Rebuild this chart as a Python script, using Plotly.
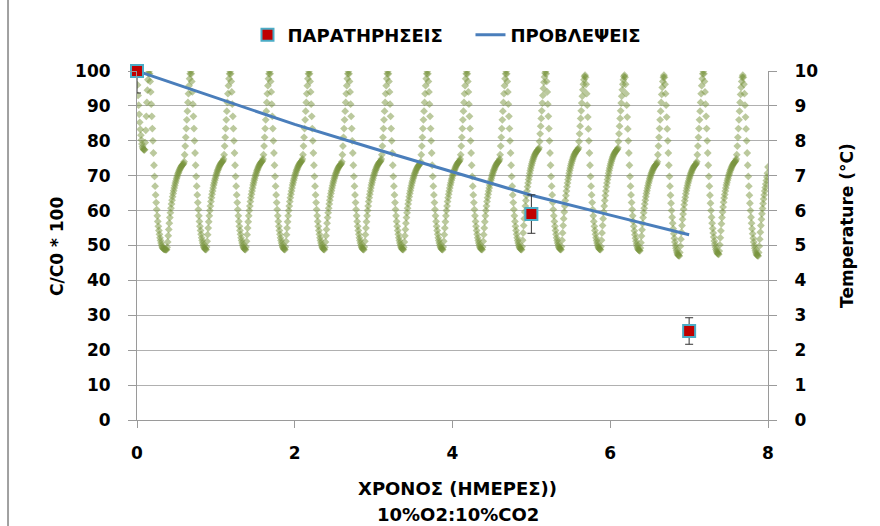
import plotly.graph_objects as go

# ---- Observations (C/C0 * 100) and their error margins ----
obs_days = [0, 5, 7]
obs_values = [100, 59.0, 25.5]
obs_err_plus = [0, 5.5, 3.8]
obs_err_minus = [6.3, 5.5, 3.8]

# ---- Model predictions (C/C0 * 100), one value per day ----
pred_days = [0, 1, 2, 3, 4, 5, 6, 7]
pred_values = [100, 92.4, 84.7, 77.8, 71.2, 64.4, 58.7, 53.1]

# ---- Storage temperature log (°C), one reading every 10 minutes ----
log_step_minutes = 10

# readings from 0:00 to 8:50 on day 0
temp_start = [
    9.90, 9.60, 9.30, 9.02, 8.76, 8.53, 8.33, 8.16, 8.02, 7.91, 7.83, 7.78, 7.75, 7.74, 7.74,
    7.95, 8.30, 8.70, 9.10, 9.45, 9.75, 9.93, 10.00, 9.92,
    9.70, 9.40, 9.05, 8.70, 8.35, 8.00, 7.65, 7.30, 6.98, 6.70, 6.45, 6.23, 6.03, 5.85, 5.69,
    5.55, 5.43, 5.32, 5.22, 5.14, 5.07, 5.01, 4.96, 4.93, 4.91, 4.90, 4.89, 4.89, 4.88, 4.88,
]

# one row per 12-hour cooling cycle, each starting at the temperature minimum
temp_cycles = [
    [4.88, 4.95, 5.10, 5.28, 5.46, 5.64, 5.80, 5.94, 6.07, 6.19, 6.30, 6.40, 6.49, 6.57, 6.65, 6.72, 6.79, 6.85, 6.91, 6.96, 7.01, 7.06, 7.10, 7.14, 7.18, 7.21, 7.24, 7.27, 7.29, 7.31, 7.33, 7.35, 7.40,
     7.60, 7.85, 8.10, 8.35, 8.60, 8.85, 9.10, 9.35, 9.58, 9.78, 9.92, 10.00, 9.92,
     9.70, 9.40, 9.05, 8.70, 8.35, 8.00, 7.65, 7.30, 6.98, 6.70, 6.45, 6.23, 6.03, 5.85, 5.69, 5.55, 5.43, 5.32, 5.22, 5.14, 5.07, 5.01, 4.96, 4.93, 4.90, 4.89],
    [4.88, 4.96, 5.12, 5.31, 5.50, 5.68, 5.85, 6.00, 6.13, 6.26, 6.37, 6.47, 6.56, 6.65, 6.73, 6.80, 6.87, 6.93, 6.99, 7.04, 7.09, 7.14, 7.18, 7.22, 7.26, 7.29, 7.32, 7.35, 7.37, 7.39, 7.41, 7.43, 7.48,
     7.60, 7.85, 8.10, 8.35, 8.60, 8.85, 9.10, 9.35, 9.58, 9.78, 9.92, 10.00, 9.92,
     9.70, 9.40, 9.05, 8.70, 8.35, 8.00, 7.65, 7.30, 6.98, 6.70, 6.45, 6.23, 6.03, 5.85, 5.69, 5.55, 5.43, 5.32, 5.22, 5.14, 5.07, 5.01, 4.96, 4.93, 4.90, 4.89],
    [4.88, 4.96, 5.12, 5.31, 5.50, 5.68, 5.85, 6.00, 6.13, 6.26, 6.37, 6.47, 6.56, 6.65, 6.73, 6.80, 6.87, 6.93, 6.99, 7.04, 7.09, 7.14, 7.18, 7.22, 7.26, 7.29, 7.32, 7.35, 7.37, 7.39, 7.41, 7.43, 7.48,
     7.60, 7.85, 8.10, 8.35, 8.60, 8.85, 9.10, 9.35, 9.58, 9.78, 9.92, 10.00, 9.92,
     9.70, 9.40, 9.05, 8.70, 8.35, 8.00, 7.65, 7.30, 6.98, 6.70, 6.45, 6.23, 6.03, 5.85, 5.69, 5.55, 5.43, 5.32, 5.22, 5.14, 5.07, 5.01, 4.96, 4.93, 4.90, 4.89],
    [4.88, 4.96, 5.12, 5.31, 5.50, 5.68, 5.85, 6.00, 6.13, 6.26, 6.37, 6.47, 6.56, 6.65, 6.73, 6.80, 6.87, 6.93, 6.99, 7.04, 7.09, 7.14, 7.18, 7.22, 7.26, 7.29, 7.32, 7.35, 7.37, 7.39, 7.41, 7.43, 7.48,
     7.60, 7.85, 8.10, 8.35, 8.60, 8.85, 9.10, 9.35, 9.58, 9.78, 9.92, 10.00, 9.92,
     9.70, 9.40, 9.05, 8.70, 8.35, 8.00, 7.65, 7.30, 6.98, 6.70, 6.45, 6.23, 6.03, 5.85, 5.69, 5.55, 5.43, 5.32, 5.22, 5.14, 5.07, 5.01, 4.96, 4.93, 4.90, 4.89],
    [4.88, 4.95, 5.10, 5.28, 5.46, 5.64, 5.80, 5.94, 6.07, 6.19, 6.30, 6.40, 6.49, 6.57, 6.65, 6.72, 6.79, 6.85, 6.91, 6.96, 7.01, 7.06, 7.10, 7.14, 7.18, 7.21, 7.24, 7.27, 7.29, 7.31, 7.33, 7.35, 7.40,
     7.60, 7.85, 8.10, 8.35, 8.60, 8.85, 9.10, 9.35, 9.58, 9.78, 9.92, 10.00, 9.92,
     9.70, 9.40, 9.05, 8.70, 8.35, 8.00, 7.65, 7.30, 6.98, 6.70, 6.45, 6.23, 6.03, 5.85, 5.69, 5.55, 5.43, 5.32, 5.22, 5.14, 5.07, 5.01, 4.96, 4.93, 4.90, 4.89],
    [4.88, 4.96, 5.12, 5.31, 5.50, 5.68, 5.85, 6.00, 6.13, 6.26, 6.37, 6.47, 6.56, 6.65, 6.73, 6.80, 6.87, 6.93, 6.99, 7.04, 7.09, 7.14, 7.18, 7.22, 7.26, 7.29, 7.32, 7.35, 7.37, 7.39, 7.41, 7.43, 7.48,
     7.60, 7.85, 8.10, 8.35, 8.60, 8.85, 9.10, 9.35, 9.58, 9.78, 9.92, 10.00, 9.92,
     9.70, 9.40, 9.05, 8.70, 8.35, 8.00, 7.65, 7.30, 6.98, 6.70, 6.45, 6.23, 6.03, 5.85, 5.69, 5.55, 5.43, 5.32, 5.22, 5.14, 5.07, 5.01, 4.96, 4.93, 4.90, 4.89],
    [4.88, 4.95, 5.10, 5.28, 5.46, 5.64, 5.80, 5.94, 6.07, 6.19, 6.30, 6.40, 6.49, 6.57, 6.65, 6.72, 6.79, 6.85, 6.91, 6.96, 7.01, 7.06, 7.10, 7.14, 7.18, 7.21, 7.24, 7.27, 7.29, 7.31, 7.33, 7.35, 7.40,
     7.60, 7.85, 8.10, 8.35, 8.60, 8.85, 9.10, 9.35, 9.58, 9.78, 9.92, 10.00, 9.92,
     9.70, 9.40, 9.05, 8.70, 8.35, 8.00, 7.65, 7.30, 6.98, 6.70, 6.45, 6.23, 6.03, 5.85, 5.69, 5.55, 5.43, 5.32, 5.22, 5.14, 5.07, 5.01, 4.96, 4.93, 4.90, 4.89],
    [4.88, 4.96, 5.12, 5.31, 5.50, 5.68, 5.85, 6.00, 6.13, 6.26, 6.37, 6.47, 6.56, 6.65, 6.73, 6.80, 6.87, 6.93, 6.99, 7.04, 7.09, 7.14, 7.18, 7.22, 7.26, 7.29, 7.32, 7.35, 7.37, 7.39, 7.41, 7.43, 7.48,
     7.60, 7.85, 8.10, 8.35, 8.60, 8.85, 9.10, 9.35, 9.58, 9.78, 9.92, 10.00, 9.92,
     9.70, 9.40, 9.05, 8.70, 8.35, 8.00, 7.65, 7.30, 6.98, 6.70, 6.45, 6.23, 6.03, 5.85, 5.69, 5.55, 5.43, 5.32, 5.22, 5.14, 5.07, 5.01, 4.96, 4.93, 4.90, 4.89],
    [4.88, 4.96, 5.12, 5.31, 5.50, 5.68, 5.85, 6.00, 6.13, 6.26, 6.37, 6.47, 6.56, 6.65, 6.73, 6.80, 6.87, 6.93, 6.99, 7.04, 7.09, 7.14, 7.18, 7.22, 7.26, 7.29, 7.32, 7.35, 7.37, 7.39, 7.41, 7.43, 7.48,
     7.60, 7.85, 8.10, 8.35, 8.60, 8.85, 9.10, 9.35, 9.58, 9.78, 9.92, 10.00, 9.92,
     9.70, 9.40, 9.05, 8.70, 8.35, 8.00, 7.65, 7.30, 6.98, 6.70, 6.45, 6.23, 6.03, 5.85, 5.69, 5.55, 5.43, 5.32, 5.22, 5.14, 5.07, 5.01, 4.96, 4.93, 4.90, 4.89],
    [4.88, 4.97, 5.15, 5.36, 5.57, 5.77, 5.96, 6.13, 6.29, 6.43, 6.56, 6.68, 6.79, 6.89, 6.98, 7.07, 7.15, 7.22, 7.29, 7.35, 7.41, 7.46, 7.51, 7.55, 7.59, 7.62, 7.65, 7.68, 7.70, 7.72, 7.74, 7.76, 7.80,
     7.98, 8.20, 8.42, 8.64, 8.86, 9.08, 9.30, 9.50, 9.68, 9.83, 9.94, 10.00, 9.92,
     9.70, 9.40, 9.05, 8.70, 8.35, 8.00, 7.65, 7.30, 6.98, 6.70, 6.45, 6.23, 6.03, 5.85, 5.69, 5.55, 5.43, 5.32, 5.22, 5.14, 5.07, 5.01, 4.96, 4.93, 4.90, 4.89],
    [4.88, 4.97, 5.15, 5.36, 5.57, 5.77, 5.96, 6.13, 6.29, 6.43, 6.56, 6.68, 6.79, 6.89, 6.98, 7.07, 7.15, 7.22, 7.29, 7.35, 7.41, 7.46, 7.51, 7.55, 7.59, 7.62, 7.65, 7.68, 7.70, 7.72, 7.74, 7.76, 7.80,
     7.98, 8.20, 8.42, 8.64, 8.86, 9.08, 9.28, 9.46, 9.62, 9.75, 9.84, 9.88, 9.82,
     9.62, 9.35, 9.02, 8.68, 8.34, 8.00, 7.65, 7.30, 6.98, 6.70, 6.45, 6.23, 6.03, 5.85, 5.69, 5.55, 5.43, 5.32, 5.22, 5.14, 5.07, 5.01, 4.96, 4.93, 4.90, 4.89],
    [4.88, 4.97, 5.15, 5.36, 5.57, 5.77, 5.96, 6.13, 6.29, 6.43, 6.56, 6.68, 6.79, 6.89, 6.98, 7.07, 7.15, 7.22, 7.29, 7.35, 7.41, 7.46, 7.51, 7.55, 7.59, 7.62, 7.65, 7.68, 7.70, 7.72, 7.74, 7.76, 7.80,
     7.98, 8.20, 8.42, 8.64, 8.86, 9.08, 9.28, 9.46, 9.62, 9.75, 9.84, 9.88, 9.82,
     9.62, 9.35, 9.02, 8.68, 8.34, 8.00, 7.65, 7.30, 6.98, 6.70, 6.45, 6.23, 6.03, 5.85, 5.69, 5.55, 5.42, 5.31, 5.21, 5.12, 5.04, 4.98, 4.93, 4.89, 4.87, 4.86],
    [4.85, 4.93, 5.08, 5.27, 5.45, 5.63, 5.80, 5.94, 6.07, 6.19, 6.30, 6.40, 6.49, 6.57, 6.65, 6.72, 6.79, 6.85, 6.91, 6.96, 7.01, 7.06, 7.10, 7.14, 7.18, 7.21, 7.24, 7.27, 7.29, 7.31, 7.33, 7.35, 7.40,
     7.60, 7.85, 8.10, 8.35, 8.60, 8.85, 9.10, 9.33, 9.53, 9.70, 9.82, 9.88, 9.82,
     9.62, 9.35, 9.02, 8.68, 8.34, 8.00, 7.65, 7.30, 6.98, 6.70, 6.44, 6.21, 6.00, 5.81, 5.64, 5.48, 5.34, 5.21, 5.10, 5.00, 4.92, 4.85, 4.79, 4.75, 4.72, 4.71],
    [4.70, 4.80, 4.98, 5.18, 5.38, 5.57, 5.75, 5.90, 6.04, 6.17, 6.28, 6.38, 6.48, 6.57, 6.65, 6.72, 6.79, 6.85, 6.91, 6.96, 7.01, 7.06, 7.10, 7.14, 7.18, 7.21, 7.24, 7.27, 7.29, 7.31, 7.33, 7.35, 7.40,
     7.60, 7.85, 8.10, 8.35, 8.60, 8.85, 9.10, 9.35, 9.58, 9.78, 9.92, 10.00, 9.92,
     9.70, 9.40, 9.05, 8.70, 8.35, 8.00, 7.65, 7.30, 6.98, 6.70, 6.44, 6.21, 6.00, 5.81, 5.64, 5.49, 5.36, 5.24, 5.13, 5.04, 4.96, 4.89, 4.84, 4.80, 4.77, 4.76],
    [4.75, 4.84, 5.02, 5.22, 5.42, 5.62, 5.80, 5.96, 6.10, 6.24, 6.36, 6.46, 6.56, 6.65, 6.73, 6.80, 6.87, 6.93, 6.99, 7.04, 7.09, 7.14, 7.18, 7.22, 7.26, 7.29, 7.32, 7.35, 7.37, 7.39, 7.41, 7.43, 7.48,
     7.60, 7.85, 8.10, 8.35, 8.60, 8.85, 9.10, 9.33, 9.53, 9.70, 9.82, 9.88, 9.82,
     9.62, 9.35, 9.02, 8.68, 8.34, 8.00, 7.65, 7.30, 6.98, 6.70, 6.44, 6.21, 6.00, 5.81, 5.64, 5.48, 5.34, 5.21, 5.10, 5.00, 4.92, 4.85, 4.79, 4.75, 4.72, 4.71],
]

# last readings, up to the end of day 8
temp_end = [4.70, 4.80, 4.98, 5.18, 5.38, 5.57, 5.75, 5.91, 6.06, 6.20, 6.33, 6.45, 6.56, 6.66, 6.76, 6.86, 6.96, 7.07, 7.25]

assert len(temp_start) == 54 and all(len(r) == 72 for r in temp_cycles) and len(temp_end) == 19

temp_values = temp_start + [v for row in temp_cycles for v in row] + temp_end
temp_days = [i * log_step_minutes / 1440 for i in range(len(temp_values))]

FONT = "DejaVu Sans"
GRID = "#B0B0B0"
AXIS = "#9A9A9A"

fig = go.Figure()

# temperature readings on the primary axis (drawn on the right side)
fig.add_trace(go.Scatter(
    x=temp_days, y=temp_values, mode="markers", yaxis="y", showlegend=False,
    marker=dict(symbol="diamond", size=6, color="#77933C", opacity=0.5, line=dict(width=0)),
    hoverinfo="skip",
))

# predictions and observations on the C/C0 axis (left side)
fig.add_trace(go.Scatter(
    x=pred_days, y=pred_values, mode="lines", yaxis="y2", name="ΠΡΟΒΛΕΨΕΙΣ",
    line=dict(color="#4A7EBB", width=3),
))
fig.add_trace(go.Scatter(
    x=obs_days, y=obs_values, mode="markers", yaxis="y2", name="ΠΑΡΑΤΗΡΗΣΕΙΣ",
    marker=dict(symbol="square", size=12, color="#C00000", line=dict(color="#4BACC6", width=2)),
    error_y=dict(type="data", symmetric=False, array=obs_err_plus, arrayminus=obs_err_minus,
                 color="#333333", thickness=1, width=4),
    cliponaxis=False,
))

tick_font = dict(family=FONT, size=17, color="#000000", weight="bold")

fig.update_layout(
    width=880, height=526,
    margin=dict(l=137, r=112, t=71, b=106),
    paper_bgcolor="white", plot_bgcolor="white",
    font=dict(family=FONT, color="#000000"),
    showlegend=True,
    legend=dict(
        orientation="h", x=0.1751, xanchor="left", y=1.103, yanchor="middle",
        font=dict(family=FONT, size=18, weight="bold"), traceorder="reversed",
        itemwidth=30, entrywidth=178, entrywidthmode="pixels", bgcolor="rgba(0,0,0,0)",
    ),
    xaxis=dict(
        range=[0, 8], tickvals=[0, 2, 4, 6, 8], showgrid=False, zeroline=False,
        showline=True, linecolor=AXIS, linewidth=1, ticks="outside", ticklen=7,
        tickcolor=AXIS, tickfont=tick_font, ticklabelstandoff=11, anchor="y",
    ),
    yaxis=dict(
        range=[0, 10], tickvals=list(range(0, 11)), side="right", showgrid=True,
        gridcolor=GRID, gridwidth=1, zeroline=False, showline=True, linecolor=AXIS,
        ticks="outside", ticklen=8, tickcolor=AXIS, tickfont=tick_font, ticklabelstandoff=14,
    ),
    yaxis2=dict(
        range=[0, 100], tickvals=list(range(0, 101, 10)), side="left", overlaying="y",
        showgrid=False, zeroline=False, showline=True, linecolor=AXIS,
        ticks="outside", ticklen=8, tickcolor=AXIS, tickfont=tick_font, ticklabelstandoff=14,
    ),
    shapes=[
        # outer chart frame edge on the left
        dict(type="line", xref="paper", yref="paper", x0=-0.2044, x1=-0.2044,
             y0=-0.31, y1=1.21, line=dict(color="#A0A0A0", width=2)),
    ],
    annotations=[
        dict(text="C/C0 * 100", xref="paper", yref="paper", x=-0.1268, y=0.4986,
             textangle=-90, showarrow=False, xanchor="center", yanchor="middle",
             font=dict(family=FONT, size=17, weight="bold")),
        dict(text="Temperature (°C)", xref="paper", yref="paper", x=1.1252, y=0.556,
             textangle=-90, showarrow=False, xanchor="center", yanchor="middle",
             font=dict(family=FONT, size=17, weight="bold")),
        dict(text="ΧΡΟΝΟΣ (ΗΜΕΡΕΣ))", xref="paper", yref="paper", x=0.5087, y=-0.1977,
             showarrow=False, xanchor="center", yanchor="middle",
             font=dict(family=FONT, size=18, weight="bold")),
        dict(text="10%O2:10%CO2", xref="paper", yref="paper", x=0.5087, y=-0.2722,
             showarrow=False, xanchor="center", yanchor="middle",
             font=dict(family=FONT, size=18, weight="bold")),
    ],
)

fig.write_html("out.html")
